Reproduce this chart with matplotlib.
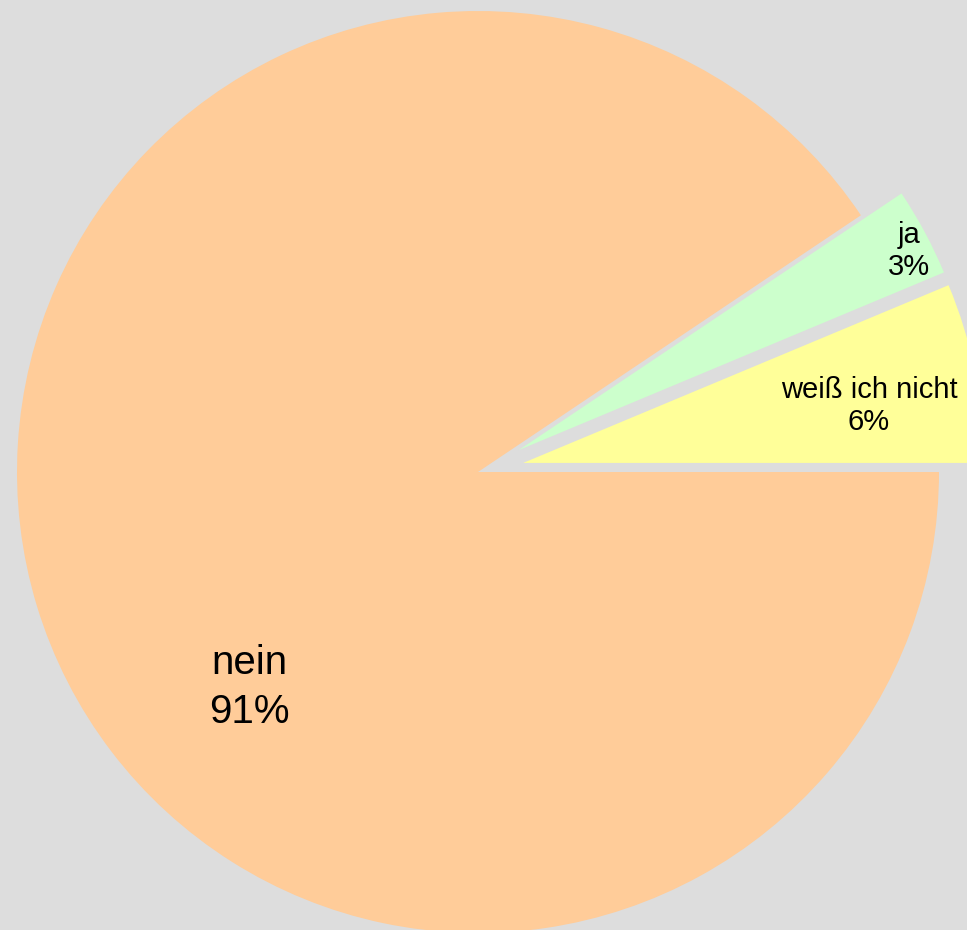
import matplotlib
matplotlib.use('Agg')
import matplotlib.pyplot as plt

plt.rcParams['font.family'] = ['Liberation Sans', 'DejaVu Sans']

# answers, shares in percent
labels = ['weiß ich nicht', 'ja', 'nein']
values = [6.3, 3.1, 90.6]
colors = ['#ffff99', '#ccffcc', '#ffcc99']
explode = [0.1, 0.1, 0]

# where the labels sit (pie units, radius = 1)
label_pos = [(0.848, 0.143), (0.935, 0.48), (-0.496, -0.468)]
label_size = [21, 21, 29]
label_spacing = [1.2, 1.2, 1.35]

fig = plt.figure(figsize=(9.67, 9.3), dpi=100, facecolor='#dddddd')
ax = fig.add_axes([0, 0, 1, 1])
ax.set_facecolor('#dddddd')

ax.pie(values, colors=colors, explode=explode, startangle=0,
       counterclock=True, radius=1, wedgeprops=dict(linewidth=0))

for lab, val, (x, y), fs, ls in zip(labels, values, label_pos, label_size, label_spacing):
    ax.text(x, y, f'{lab}\n{round(val)}%', ha='center', va='center',
            fontsize=fs, color='black', linespacing=ls)

# ~461 px per unit, pie centre at (478, 472) px from top-left
ax.set_aspect('auto')
ax.set_xlim(-478 / 461, (967 - 478) / 461)
ax.set_ylim(-(930 - 472) / 461, 472 / 461)
ax.axis('off')

fig.savefig('out.png', dpi=100, facecolor='#dddddd')
